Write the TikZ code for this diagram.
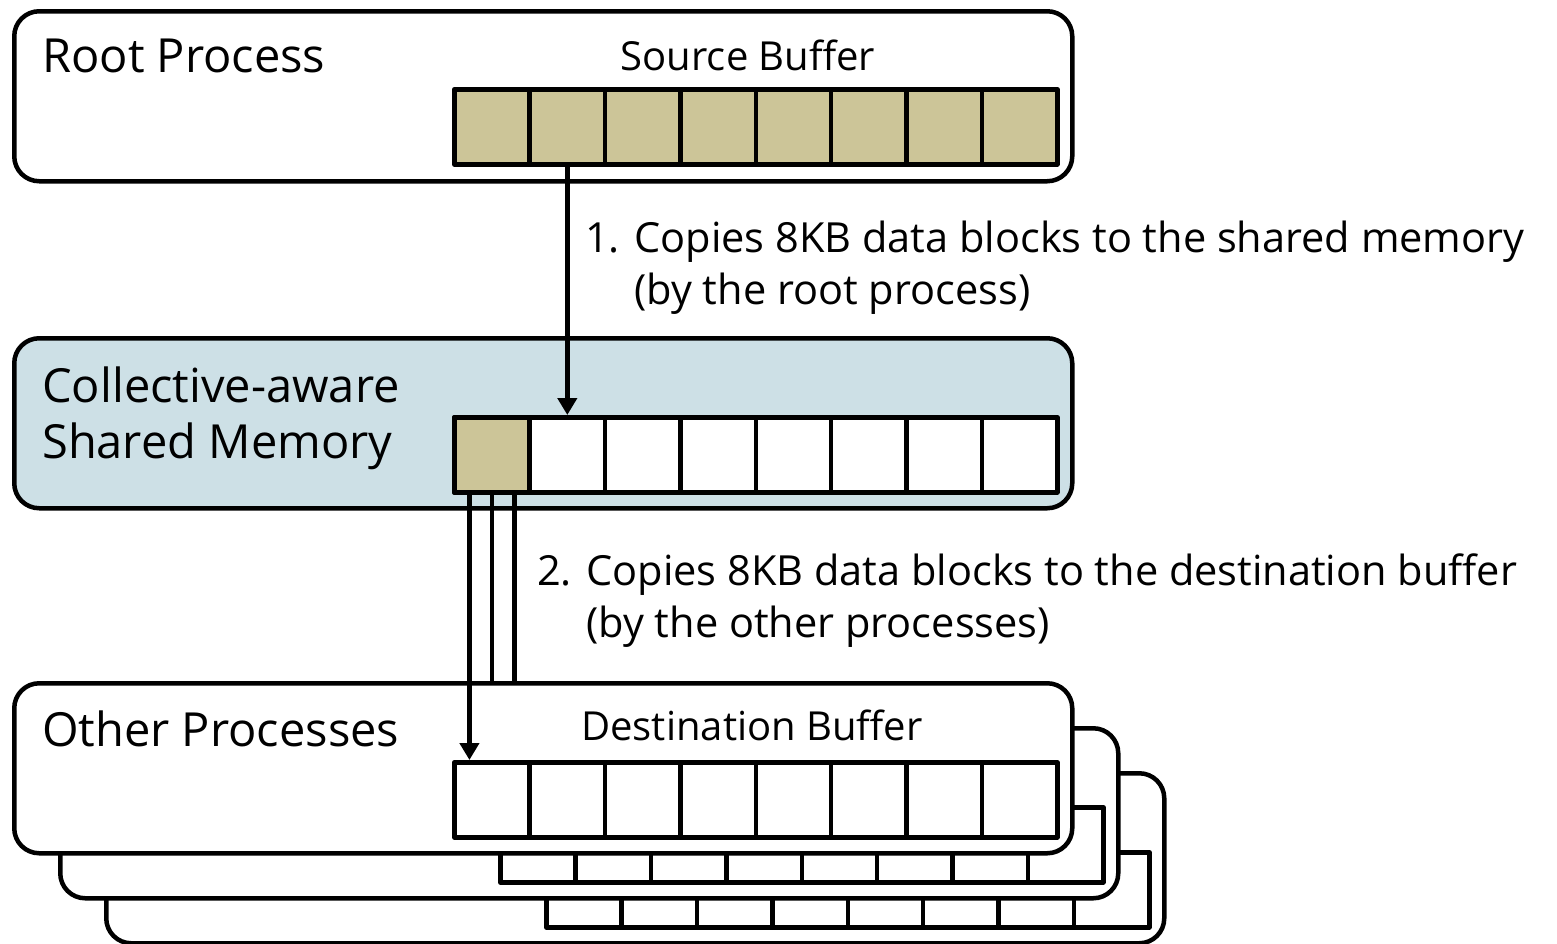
\documentclass[tikz,border=0pt]{standalone}
\usepackage{fontspec}
\setmainfont{Open Sans}
\usetikzlibrary{arrows.meta}
\definecolor{blocktan}{RGB}{204,197,152}
\definecolor{shmblue}{RGB}{205,224,230}
\tikzset{
  procbox/.style={draw, line width=4.5pt, rounded corners=25pt, fill=white,
    minimum width=1058pt, minimum height=170pt, inner sep=0pt, anchor=north west},
  cell/.style={draw, line width=4.5pt, line join=round, fill=white,
    minimum width=75.375pt, minimum height=75pt, inner sep=0pt, anchor=north west},
  filled/.style={fill=blocktan},
  % multi-line labels are placed by the baseline of their last line
  title/.style={anchor=base west, inner sep=0pt, align=left,
    font=\fontsize{47}{56}\selectfont},
  buftitle/.style={anchor=base, inner sep=0pt, font=\fontsize{40}{48}\selectfont},
  steplabel/.style={anchor=base west, inner sep=0pt, align=left,
    font=\fontsize{41.5}{52}\selectfont},
  copyline/.style={line width=4.5pt},
  copyarrow/.style={line width=4.5pt, -{Triangle[length=17pt,width=19pt]}},
}
\begin{document}
\begin{tikzpicture}[x=1pt,y=-1pt]
\useasboundingbox (0,0) rectangle (1557,943);

% other processes: two copies stacked behind the front one
\foreach \k/\nm in {2/c, 1/b} {
  \node[procbox] (other\nm) at ({12+46*\k},{681+45*\k}) {};
  \foreach \i in {0,...,7}
    \node[cell] (dst\nm-\i) at ({452+46*\k+75.375*\i},{760+45*\k}) {};
}

% front process with the destination buffer
\node[procbox] (other) at (12,681) {};
\foreach \i in {0,...,7}
  \node[cell] (dst-\i) at ({452+75.375*\i},760) {};
\node[title] (otherlbl) at (42,746) {Other Processes};
\node[buftitle] (dstlbl) at (752,740) {Destination Buffer};

% root process with the source buffer
\node[procbox] (root) at (12,9) {};
\foreach \i in {0,...,7}
  \node[cell, filled] (src-\i) at ({452+75.375*\i},87) {};
\node[title] (rootlbl) at (42,72) {Root Process};
\node[buftitle] (srclbl) at (748,70) {Source Buffer};

% collective-aware shared memory
\node[procbox, fill=shmblue] (shm) at (12,336) {};
\foreach \i in {0,...,7}
  \node[cell] (shm-\i) at ({452+75.375*\i},415) {};
\node[cell, filled] at (shm-0.north west) {};
\node[title] (shmlbl) at (42,458) {Collective-aware\\Shared Memory};

% step 1: root process writes blocks into shared memory
\draw[copyarrow] (src-1.south) -- (shm-1.north);
\node[steplabel] (step1) at (585,304)
  {1. Copies 8KB data blocks to the shared memory\\
   \hphantom{1. }(by the root process)};

% step 2: each other process reads blocks from shared memory
\draw[copyarrow] ([xshift=-22.5pt]shm-0.south) -- ([xshift=-22.5pt]dst-0.north);
\draw[copyline] (shm-0.south) -- (shm-0.south |- other.north);
\draw[copyline] ([xshift=22.5pt]shm-0.south) -- ([xshift=22.5pt]shm-0.south |- other.north);
\node[steplabel] (step2) at (537,637)
  {2. Copies 8KB data blocks to the destination buffer\\
   \hphantom{2. }(by the other processes)};
\end{tikzpicture}
\end{document}
